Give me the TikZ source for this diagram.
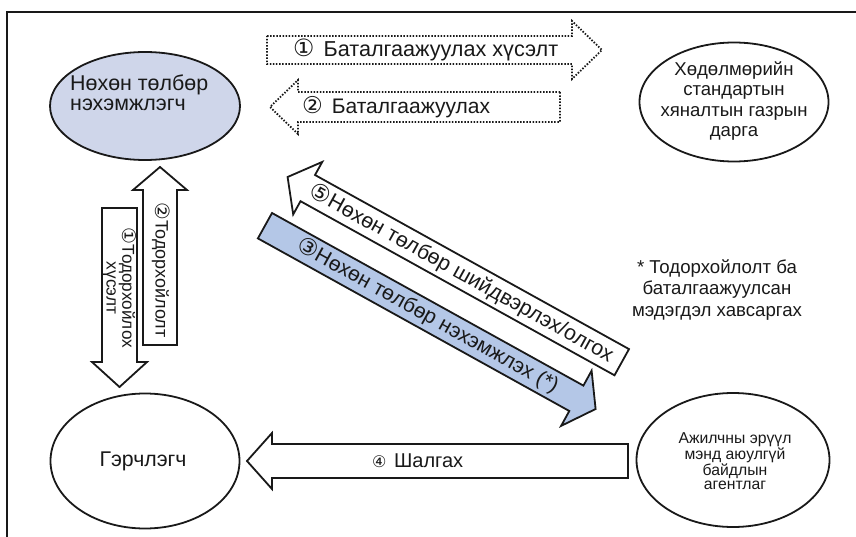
\documentclass[tikz,border=0pt]{standalone}
\usepackage{graphicx}
\usepackage{fontspec}
\setmainfont{Liberation Sans}
\newfontfamily\dvfont{DejaVu Sans}
\newcommand{\cnum}[1]{{\dvfont\scalebox{1.1}{#1}}}
\newcommand{\fitw}[2]{\resizebox{#1}{!}{#2}}
\newcommand{\lines}[4]{\fontsize{#2}{#3}\selectfont\begin{tabular}{@{}#1@{}}#4\end{tabular}}
\usetikzlibrary{shapes.geometric}
\definecolor{ellblue}{RGB}{207,214,234}
\definecolor{arrblue}{RGB}{180,199,231}
\definecolor{lineblk}{RGB}{25,25,25}
\begin{document}
\begin{tikzpicture}[x=1pt,y=-1pt,
  ell/.style={draw=lineblk, line width=1.8pt, ellipse, inner sep=0pt},
  fat/.style={draw=lineblk, fill=white, line width=1.8pt, line join=miter},
  dotarrow/.style={draw=lineblk, line width=1.8pt, dash pattern=on 1.5pt off 1.6pt},
  lbl/.style={inner sep=0pt, text=lineblk}
]
\useasboundingbox (0,0) rectangle (856,537);
\draw[line width=2pt, lineblk] (7,545) -- (7,12) -- (865,12);

% ellipses
\node[ell, fill=ellblue, minimum width=190pt, minimum height=108pt] (claim) at (145,106) {};
\node[lbl, anchor=west] (claimtxt) at (70,96) {\fitw{138pt}{\lines{l}{21}{20}{Нөхөн төлбөр\\нэхэмжлэгч}}};

\node[ell, minimum width=189pt, minimum height=119pt] (chief) at (734,102) {};
\node[lbl] (chieftxt) at (734,102) {\fitw{147pt}{\lines{c}{19}{20.5}{Хөдөлмөрийн\\стандартын\\хяналтын газрын\\дарга}}};

\node[ell, minimum width=189pt, minimum height=135pt] (witness) at (145,461) {};
\node[lbl] (witnesstxt) at (143,461) {\fitw{87pt}{\fontsize{20}{22}\selectfont Гэрчлэгч}};

\node[ell, minimum width=193pt, minimum height=134pt] (agency) at (733,460) {};
\node[lbl] (agencytxt) at (735,463) {\fitw{113pt}{\lines{c}{16}{14.6}{Ажилчны эрүүл\\мэнд аюулгүй\\байдлын\\агентлаг}}};

% dotted arrows
\draw[dotarrow] (267,36) -- (572,36) -- (572,21) -- (602,50) -- (572,79) -- (572,64) -- (267,64) -- cycle;
\node[lbl, anchor=west] (req) at (293,50) {\fitw{265pt}{\fontsize{21}{23}\selectfont\cnum{①}\hspace{3pt} Баталгаажуулах хүсэлт}};
\draw[dotarrow] (560,92) -- (298,92) -- (298,80) -- (270,107) -- (298,134) -- (298,122) -- (560,122) -- cycle;
\node[lbl, anchor=west] (conf) at (302,107) {\fitw{188pt}{\fontsize{21}{23}\selectfont\cnum{②}\hspace{3pt} Баталгаажуулах}};

% vertical arrows
\draw[fat] (102,208) -- (137,208) -- (137,362) -- (147,362) -- (119.5,387) -- (92,362) -- (102,362) -- cycle;
\node[lbl, rotate=-90] (defreq) at (119,288) {\fitw{120pt}{\lines{c}{18}{16.5}{\cnum{①}Тодорхойлох\\хүсэлт}}};
\draw[fat] (143,345) -- (143,190) -- (133,190) -- (160,167) -- (187,190) -- (177,190) -- (177,345) -- cycle;
\node[lbl, rotate=-90] (def) at (161,270) {\fitw{135pt}{\fontsize{18}{20}\selectfont\cnum{②}Тодорхойлолт}};

% diagonal arrows
\draw[fat] (315,175) -- (629,349.1) -- (614.5,375.3) -- (300.5,201.2) -- (293.2,214.4) -- (287.6,177) -- (322.3,161.9) -- cycle;
\node[lbl, rotate=-29] (decide) at (461.5,273.4) {\fitw{344pt}{\fontsize{20}{22}\selectfont\cnum{⑤}Нөхөн төлбөр шийдвэрлэх/олгох}};
\draw[fat, fill=arrblue] (272,213) -- (583.4,385.6) -- (591.6,370.7) -- (595.6,409) -- (561.1,425.9) -- (569.3,411) -- (257.9,238.4) -- cycle;
\node[lbl, rotate=-29] (apply) at (427.8,315.9) {\fitw{296pt}{\fontsize{20}{22}\selectfont\cnum{③}Нөхөн төлбөр нэхэмжлэх (*)}};

% horizontal arrow
\draw[fat] (628,444) -- (272,444) -- (272,433) -- (247,461) -- (272,489) -- (272,478) -- (628,478) -- cycle;
\node[lbl, anchor=west] (check) at (372,461) {\fitw{91pt}{\fontsize{20}{22}\selectfont{\fontsize{16}{18}\dvfont ④}\hspace{2pt} Шалгах}};

% note
\node[lbl] (note) at (717,290.5) {\fitw{170pt}{\lines{c}{19}{22}{* Тодорхойлолт ба\\баталгаажуулсан\\мэдэгдэл хавсаргах}}};
\end{tikzpicture}
\end{document}
